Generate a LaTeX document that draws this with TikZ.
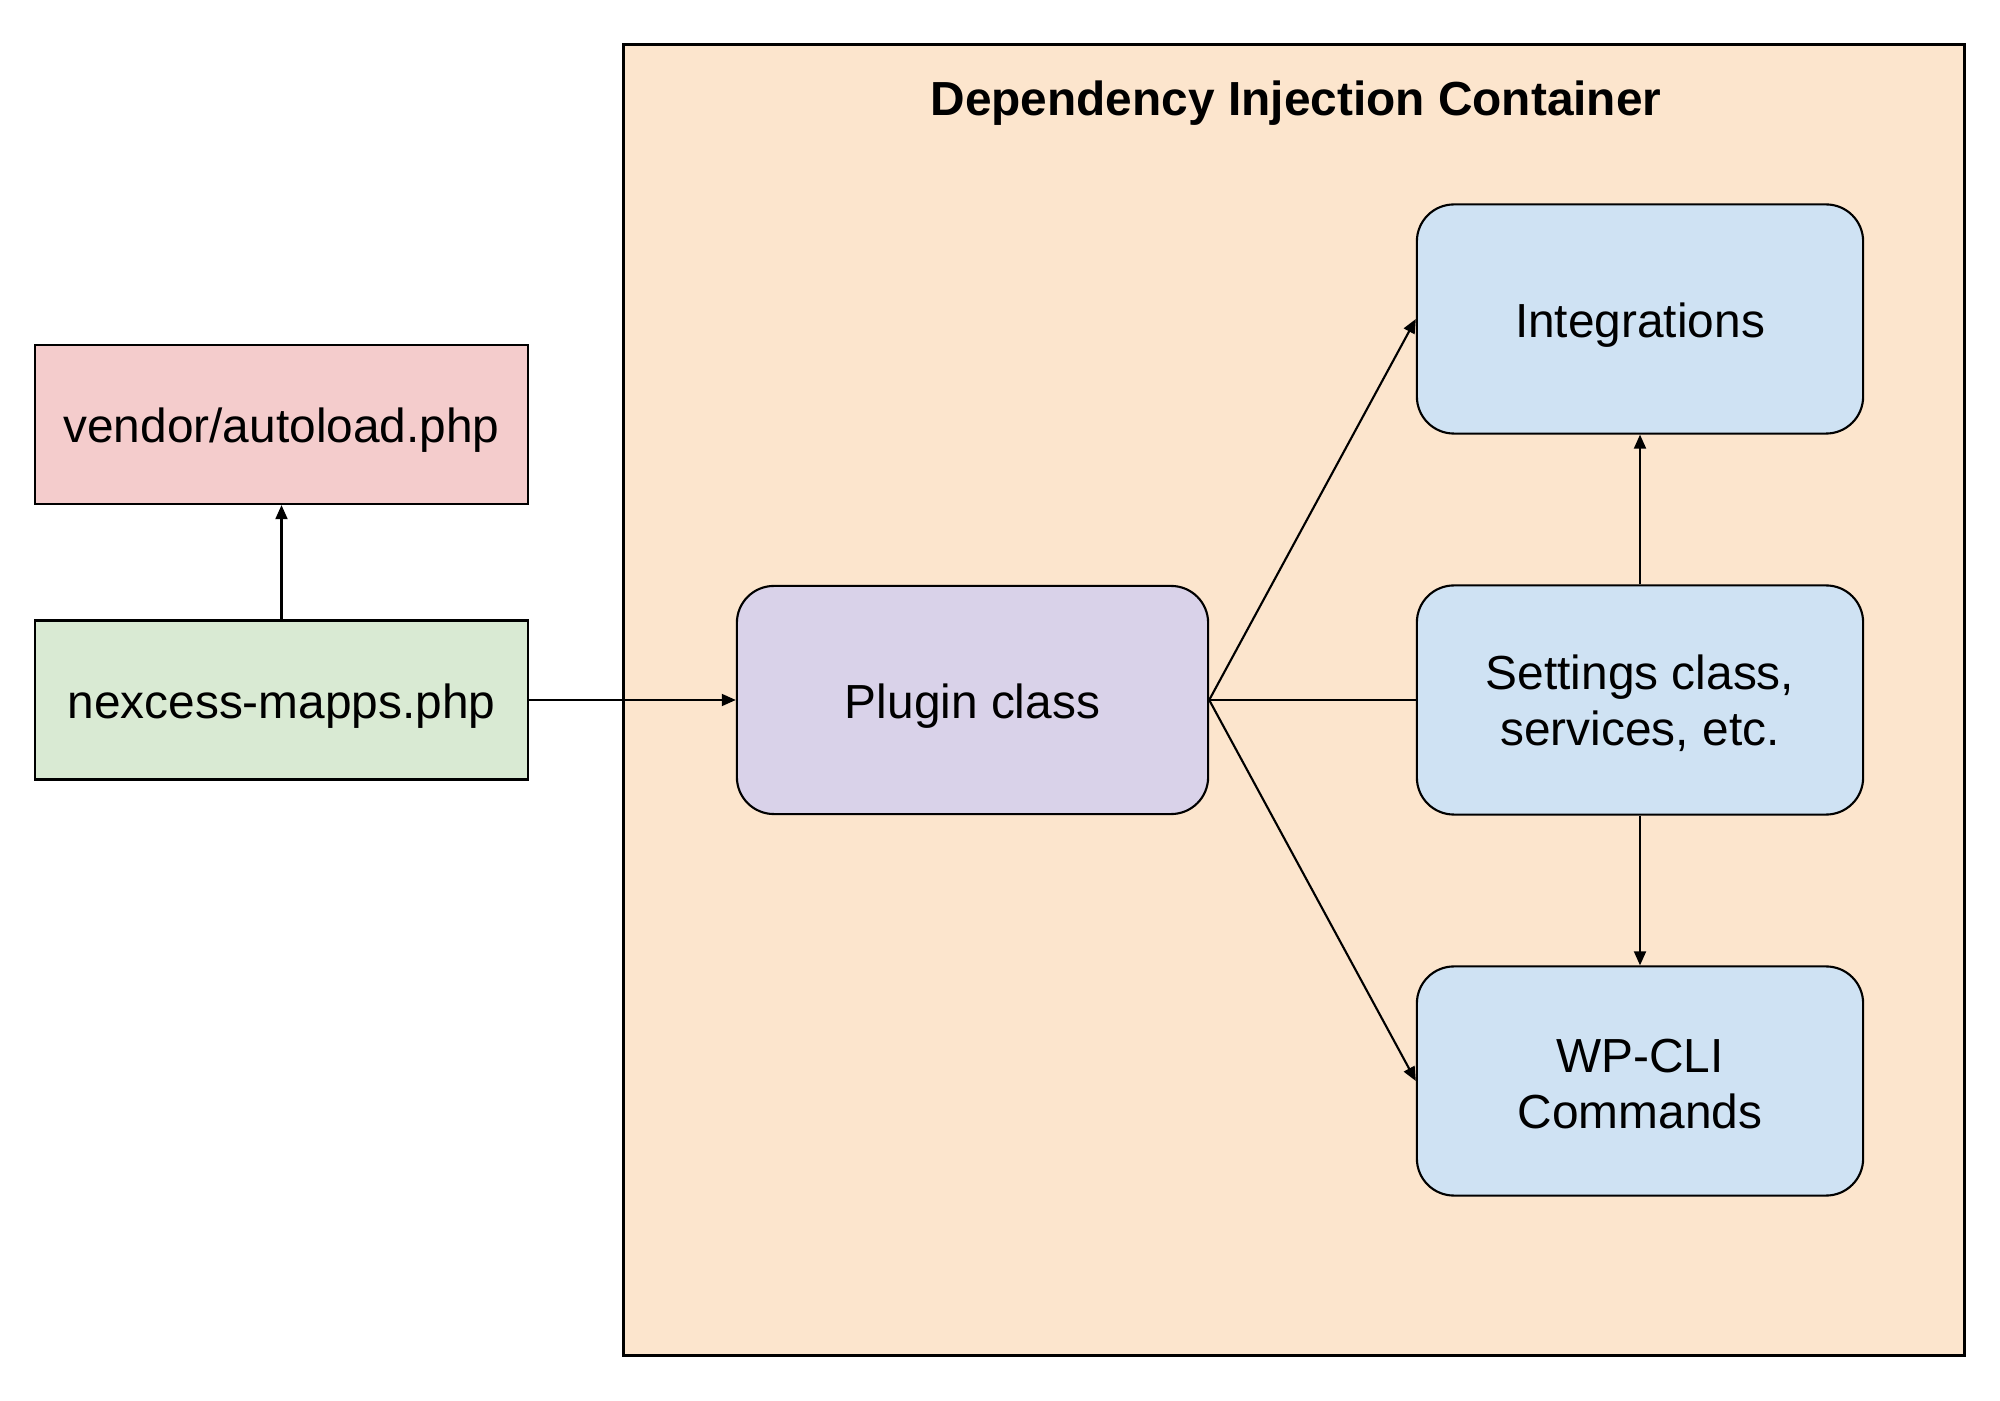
\documentclass[tikz,border=0pt]{standalone}
\usepackage{fontspec}
\setmainfont{Liberation Sans}
\usetikzlibrary{arrows.meta}
\definecolor{contfill}{HTML}{FCE5CD}
\definecolor{redfill}{HTML}{F4CCCC}
\definecolor{greenfill}{HTML}{D9EAD3}
\definecolor{purplefill}{HTML}{D9D2E9}
\definecolor{bluefill}{HTML}{CFE2F3}
\begin{document}
\begin{tikzpicture}[x=0.01cm,y=-0.01cm,
  every node/.style={font=\fontsize{13.6}{15.8}\selectfont, align=center, inner sep=0pt},
  oneline/.style={text height=12.4pt, text depth=2pt},
  sqbox/.style={draw=black, line width=0.6pt, rectangle, minimum width=4.93cm, minimum height=1.59cm, oneline},
  rbox/.style={draw=black, line width=0.6pt, rectangle, rounded corners=0.37cm, minimum width=4.46cm, minimum height=2.29cm},
  conn/.style={draw=black, line width=0.6pt},
  arr/.style={conn, -{Stealth[length=4pt,width=3.4pt,inset=0pt]}}]
\useasboundingbox (0,0) rectangle (2000,1401);
% container
\node[draw=black, line width=0.8pt, fill=contfill, rectangle, minimum width=13.40cm, minimum height=13.10cm] (cont) at (1294,700) {};
\node[font=\fontsize{13.6}{16}\selectfont\bfseries, anchor=base] (title) at (1296,116) {Dependency Injection Container};
% left boxes
\node[sqbox, fill=redfill] (vendor) at (281.5,424.5) {vendor/autoload.php};
\node[sqbox, fill=greenfill] (nexcess) at (281.5,700) {nexcess-mapps.php};
% inner boxes
\node[rbox, fill=purplefill, minimum width=4.71cm, minimum height=2.28cm, oneline] (plugin) at (972.5,700) {Plugin class};
\node[rbox, fill=bluefill, oneline] (integ) at (1640,319) {Integrations};
\node[rbox, fill=bluefill] (settings) at (1640,700) {};
\node[inner sep=0pt, yshift=-0.03cm] (settingslbl) at (settings.center) {Settings class,\\services, etc.};
\node[rbox, fill=bluefill] (wpcli) at (1640,1081) {};
\node[inner sep=0pt, yshift=-0.03cm] (wpclilbl) at (wpcli.center) {WP-CLI\\Commands};
% connectors
\draw[arr] (nexcess.north) -- (vendor.south);
\draw[arr] (nexcess.east) -- (plugin.west);
\draw[arr] (plugin.east) -- (integ.west);
\draw[conn] (plugin.east) -- (settings.west);
\draw[arr] (plugin.east) -- (wpcli.west);
\draw[arr] (settings.north) -- (integ.south);
\draw[arr] (settings.south) -- (wpcli.north);
\end{tikzpicture}
\end{document}
